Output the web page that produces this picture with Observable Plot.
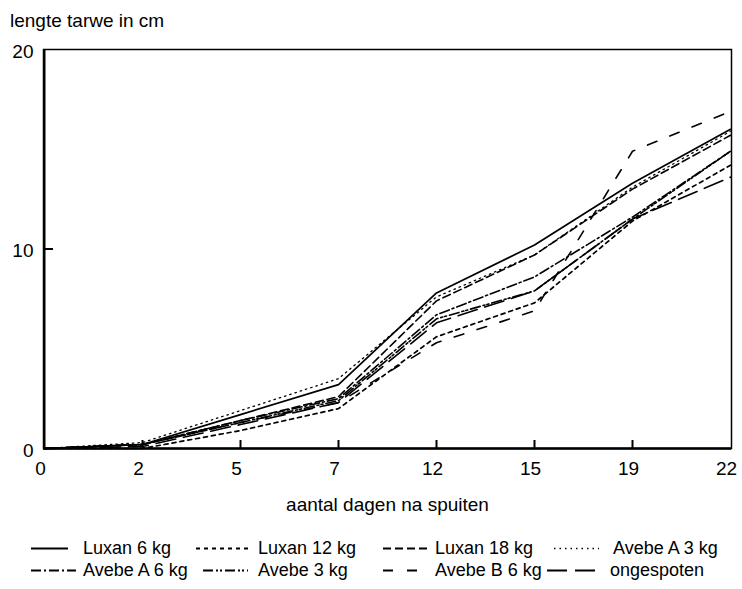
<!DOCTYPE html>
<html>
<head>
<meta charset="utf-8">
<script src="https://cdn.jsdelivr.net/npm/d3@7"></script>
<script src="https://cdn.jsdelivr.net/npm/@observablehq/plot@0.6"></script>
<style>
  html, body { margin: 0; padding: 0; background: #fff; }
  body { font-family: "Liberation Sans", Arial, Helvetica, sans-serif; color: #000; }
  #wrap { position: relative; width: 742px; height: 589px; overflow: hidden; }
  #title { height: 31px; box-sizing: border-box; padding: 11px 0 0 10px; font-size: 19px; line-height: 20px; }
  #chart svg { display: block; }
  #legend { position: relative; height: 69px; }
  .item { position: absolute; height: 22px; display: block; }
  .item svg { position: absolute; top: 0; }
  .item span { position: absolute; top: 0; font-size: 18px; line-height: 22px; white-space: nowrap; }
</style>
</head>
<body>
<div id="wrap">
  <div id="title">lengte tarwe in cm</div>
  <div id="chart"></div>
  <div id="legend"></div>
</div>
<script>
// ---- data ----
const days = [0, 2, 5, 7, 12, 15, 19, 22];
const yTicks = [0, 10, 20];
const seriesNames = ["Luxan 6 kg", "Luxan 12 kg", "Luxan 18 kg", "Avebe A 3 kg",
                     "Avebe A 6 kg", "Avebe 3 kg", "Avebe B 6 kg", "ongespoten"];
const luxan6   = [0, 0.2, 1.7, 3.2, 7.8, 10.2, 13.3, 16.0];
const luxan12  = [0, 0.0, 0.9, 2.0, 5.6, 7.3, 11.4, 14.2];
const luxan18  = [0, 0.2, 1.4, 2.6, 7.4, 9.7, 13.0, 15.7];
const avebeA3  = [0, 0.3, 1.9, 3.5, 7.6, 9.7, 13.1, 15.9];
const avebeA6  = [0, 0.2, 1.4, 2.5, 6.7, 8.6, 11.6, 14.9];
const avebe3   = [0, 0.2, 1.3, 2.4, 6.5, 7.9, 11.5, 14.9];
const avebeB6  = [0, 0.2, 1.3, 2.3, 5.3, 6.9, 14.9, 16.9];
const ongesp   = [0, 0.1, 1.2, 2.3, 6.3, 7.9, 11.5, 13.6];
const seriesValues = [luxan6, luxan12, luxan18, avebeA3, avebeA6, avebe3, avebeB6, ongesp];

// ---- styles ----
const dashStyles = ["none", "4,4", "8,4", "1.5,4", "10,3,2,3", "10,3,2,2,2,3", "10,14", "20,8"];
const lineWidths = [1.7, 1.7, 1.6, 1.3, 1.6, 1.6, 1.6, 1.6];

const W = 742, H = 489, MT = 18, ML = 43, MR = 11, MB = 72;
const frameW = W - ML - MR, frameH = H - MT - MB;

const rows = seriesNames.flatMap((s, i) => days.map((d, j) => ({series: s, day: d, value: seriesValues[i][j]})));

const lineMarks = seriesNames.map((s, i) =>
  Plot.line(rows.filter(r => r.series === s), {
    x: "day", y: "value", stroke: "#000",
    strokeWidth: lineWidths[i],
    strokeDasharray: dashStyles[i] === "none" ? null : dashStyles[i],
    strokeLinejoin: "round"
  })
);

const chart = Plot.plot({
  width: W,
  height: H,
  marginTop: MT,
  marginLeft: ML,
  marginRight: MR,
  marginBottom: MB,
  style: {fontFamily: "'Liberation Sans', Arial, Helvetica, sans-serif", fontSize: "19px", color: "#000", background: "#fff"},
  x: {type: "point", domain: days, padding: 0},
  y: {domain: [0, 20]},
  marks: [
    ...lineMarks,
    Plot.frame({stroke: "#000", strokeWidth: 1.5}),
    Plot.ruleY([0], {stroke: "#000", strokeWidth: 2.5}),
    Plot.ruleX([0], {stroke: "#000", strokeWidth: 2}),
    // inward ticks (full-span tick marks trimmed with insets)
    Plot.tickY([10], {y: d => d, insetRight: frameW - 10, stroke: "#000", strokeWidth: 2}),
    Plot.tickX(days.slice(1, -1), {x: d => d, insetTop: frameH - 8, stroke: "#000", strokeWidth: 2}),
    Plot.axisY(yTicks, {tickSize: 0, tickPadding: 10, dy: 2, fontSize: 19, label: null}),
    Plot.axisX(days, {tickSize: 0, tickPadding: 13, dx: -4, fontSize: 19,
      label: "aantal dagen na spuiten", labelAnchor: "center", labelOffset: 62})
  ]
});
document.getElementById("chart").appendChild(chart);

// ---- legend (HTML below the SVG) ----
const legendLayout = [
  {x0: 31, x1: 68, tx: 83, row: 0}, {x0: 196, x1: 251, tx: 258, row: 0},
  {x0: 383, x1: 428, tx: 435, row: 0}, {x0: 554, x1: 599, tx: 613, row: 0},
  {x0: 31, x1: 76, tx: 83, row: 1}, {x0: 203, x1: 248, tx: 258, row: 1},
  {x0: 383, x1: 421, tx: 435, row: 1}, {x0: 547, x1: 599, tx: 610, row: 1}
];
const legend = document.getElementById("legend");
seriesNames.forEach((name, i) => {
  const L = legendLayout[i];
  const item = document.createElement("div");
  item.className = "item";
  item.style.left = L.x0 + "px";
  item.style.top = (17 + L.row * 22) + "px";
  const w = L.x1 - L.x0;
  const svg = d3.create("svg").attr("width", w).attr("height", 22);
  svg.append("line").attr("x1", 0).attr("x2", w).attr("y1", 11.5).attr("y2", 11.5)
    .attr("stroke", "#000").attr("stroke-width", lineWidths[i] + 0.3)
    .attr("stroke-dasharray", dashStyles[i] === "none" ? null : dashStyles[i]);
  item.appendChild(svg.node());
  const span = document.createElement("span");
  span.textContent = name;
  span.style.left = (L.tx - L.x0) + "px";
  item.appendChild(span);
  legend.appendChild(item);
});
</script>
</body>
</html>
